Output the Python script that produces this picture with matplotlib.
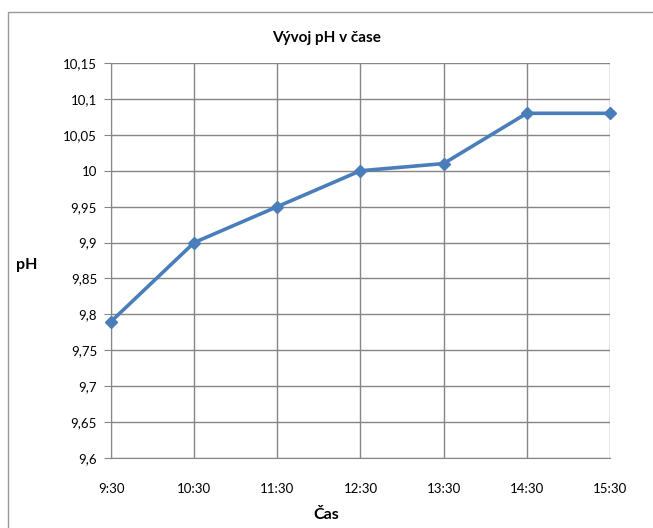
import matplotlib
matplotlib.use("Agg")
import matplotlib.pyplot as plt
from matplotlib.patches import Rectangle
from matplotlib.ticker import FuncFormatter

# data
times = ["9:30", "10:30", "11:30", "12:30", "13:30", "14:30", "15:30"]
ph = [9.79, 9.90, 9.95, 10.00, 10.01, 10.08, 10.08]
y_ticks = [9.6, 9.65, 9.7, 9.75, 9.8, 9.85, 9.9, 9.95, 10.0, 10.05, 10.1, 10.15]

plt.rcParams['font.family'] = ['Lato', 'DejaVu Sans']

fig = plt.figure(figsize=(6.53, 5.28), dpi=100)
ax = fig.add_axes([0.170, 0.1326, 0.764, 0.748])

# outer chart frame
fig.patches.append(Rectangle((8 / 653, -0.01), 1.0, 1 - 12 / 528 + 0.01,
                             transform=fig.transFigure, fill=False,
                             edgecolor='#9a9a9a', linewidth=1.0))

x = list(range(len(times)))
ax.plot(x, ph, color='#4a7ebb', linewidth=2.6, marker='D', markersize=6,
        zorder=3, clip_on=False)

ax.set_xlim(0, len(times) - 1)
ax.set_ylim(9.6, 10.15)
ax.set_xticks(x)
ax.set_xticklabels(times)
ax.set_yticks(y_ticks)

def fmt(v, pos):
    s = ('%.2f' % v).rstrip('0').rstrip('.')
    return s.replace('.', ',')

ax.yaxis.set_major_formatter(FuncFormatter(fmt))

ax.grid(True, color='#868686', linewidth=1.0)
ax.set_axisbelow(True)
for side in ['top', 'right']:
    ax.spines[side].set_visible(False)
ax.spines['left'].set_color('#868686')
ax.spines['bottom'].set_color('#868686')

ax.tick_params(axis='y', length=5, color='#868686', pad=5, labelsize=9.5)
ax.tick_params(axis='x', length=0, pad=18, labelsize=9.5)

fig.text(0.5, 0.928, "Vývoj pH v čase", ha='center', va='center',
         fontsize=11, fontweight='bold')
fig.text(0.5, 0.024, "Čas", ha='center', va='center',
         fontsize=11.5, fontweight='bold')
fig.text(27 / 653, 1 - 265 / 528, "pH", ha='center', va='center',
         fontsize=11.5, fontweight='bold')

fig.savefig("out.png", dpi=100)
